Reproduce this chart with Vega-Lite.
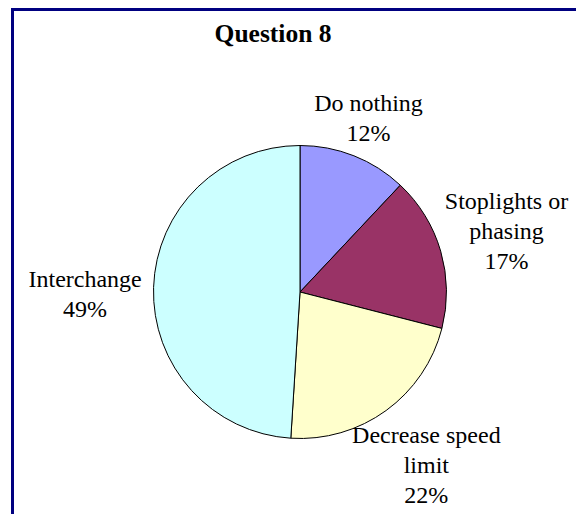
{
  "$schema": "https://vega.github.io/schema/vega-lite/v6.json",
  "width": 575,
  "height": 565,
  "autosize": "none",
  "padding": {"left": 12.5, "top": 9.5, "right": 0, "bottom": 0},
  "background": "white",
  "view": {"stroke": "#000080", "strokeWidth": 3, "fill": "white"},
  "title": {
    "text": "Question 8",
    "font": "Liberation Serif",
    "fontSize": 25.5,
    "fontWeight": "bold",
    "color": "black",
    "anchor": "middle",
    "baseline": "alphabetic",
    "offset": -33.5,
    "dy": 24.5,
    "dx": -27
  },
  "data": {
    "values": [
      {"category": "Do nothing", "order": 1, "value": 12, "label": "Do nothing\n12%"},
      {"category": "Stoplights or phasing", "order": 2, "value": 17, "label": "Stoplights or\nphasing\n17%"},
      {"category": "Decrease speed limit", "order": 3, "value": 22, "label": "Decrease speed\nlimit\n22%"},
      {"category": "Interchange", "order": 4, "value": 49, "label": "Interchange\n49%"}
    ]
  },
  "encoding": {
    "theta": {"field": "value", "type": "quantitative", "stack": true},
    "order": {"field": "order", "type": "quantitative"}
  },
  "layer": [
    {
      "mark": {"type": "arc", "outerRadius": 146.5, "stroke": "black", "strokeWidth": 1},
      "encoding": {
        "color": {
          "field": "category",
          "type": "nominal",
          "scale": {
            "domain": ["Do nothing", "Stoplights or phasing", "Decrease speed limit", "Interchange"],
            "range": ["#9999FF", "#993366", "#FFFFCC", "#CCFFFF"]
          },
          "legend": null
        }
      }
    },
    {
      "mark": {
        "type": "text",
        "radius": {"expr": "datum.category == 'Do nothing' ? 186 : 215"},
        "dy": {"expr": "-(length(split(datum.label, '\\n')) - 1) * 15 + (datum.category == 'Interchange' ? 10 : 0)"},
        "font": "Liberation Serif",
        "fontSize": 24,
        "lineHeight": 30,
        "lineBreak": "\n",
        "align": "center",
        "baseline": "middle",
        "color": "black"
      },
      "encoding": {
        "text": {"field": "label", "type": "nominal"}
      }
    }
  ]
}
